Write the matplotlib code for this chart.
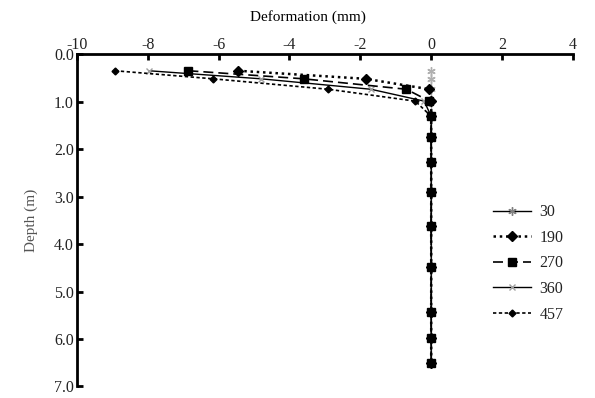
import matplotlib.pyplot as plt
from matplotlib.lines import Line2D

plt.rcParams['font.family'] = ['Liberation Serif', 'DejaVu Serif']
plt.rcParams['axes.unicode_minus'] = False

depth = [0.35, 0.52, 0.74, 0.99, 1.31, 1.75, 2.27, 2.91, 3.62, 4.49, 5.43, 5.97, 6.51]

d30 = [0.0, 0.0, 0.0, 0.0, 0.0, 0.0, 0.0, 0.0, 0.0, 0.0, 0.0, 0.0, 0.0]
d190 = [-5.45, -1.85, -0.05, 0.0, 0.0, 0.0, 0.0, 0.0, 0.0, 0.0, 0.0, 0.0, 0.0]
d270 = [-6.85, -3.6, -0.7, -0.05, 0.0, 0.0, 0.0, 0.0, 0.0, 0.0, 0.0, 0.0, 0.0]
d360 = [-7.97, -4.8, -1.7, -0.2, 0.0, 0.0, 0.0, 0.0, 0.0, 0.0, 0.0, 0.0, 0.0]
d457 = [-8.92, -6.15, -2.9, -0.45, 0.0, 0.0, 0.0, 0.0, 0.0, 0.0, 0.0, 0.0, 0.0]

labels = ["30", "190", "270", "360", "457"]

fig = plt.figure(figsize=(5.95, 3.98), dpi=100)
ax = fig.add_axes([0.129, 0.029, 0.834, 0.835])

# series styles follow the excel original
ax.plot(d30, depth, color="#a0a0a0", lw=1, marker=(6, 2, 0), ms=6, mec="#b0b0b0")
ax.plot(d360, depth, color="black", lw=1, marker="x", ms=5, mec="#a0a0a0")
ax.plot(d457, depth, color="black", lw=1.2, ls=(0, (2, 1.5)), marker="D", ms=3.5)
ax.plot(d270, depth, color="black", lw=1.2, ls=(0, (6, 3)), marker="s", ms=5.5)
ax.plot(d190, depth, color="black", lw=1.8, ls=(0, (1, 1.5)), marker="D", ms=5.5)

ax.set_xlim(-10, 4)
ax.set_ylim(7, 0)
ax.set_xticks(range(-10, 5, 2))
ax.set_yticks(range(0, 8))
ax.set_yticklabels([f"{v:.1f}" for v in range(0, 8)])
ax.xaxis.tick_top()
ax.xaxis.set_label_position("top")
ax.set_xlabel("Deformation (mm)", fontsize=11)
ax.xaxis.set_label_coords(0.465, 1.10)
ax.set_ylabel("Depth (m)", fontsize=11, color="#555555")
ax.yaxis.set_label_coords(-0.078, 0.5)

for s in ["right", "bottom"]:
    ax.spines[s].set_visible(False)
for s in ["left", "top"]:
    ax.spines[s].set_linewidth(2)
ax.tick_params(axis="both", direction="in", length=4, width=2, labelsize=11.5,
               labelcolor="#222222")
ax.tick_params(axis="x", pad=1)
ax.tick_params(axis="y", pad=2)

handles = [
    Line2D([], [], color="black", lw=1, marker=(6, 2, 0), ms=6, mec="#808080"),
    Line2D([], [], color="black", lw=1.8, ls=(0, (1, 1.5)), marker="D", ms=5.5),
    Line2D([], [], color="black", lw=1.2, ls=(0, (6, 3)), marker="s", ms=5.5),
    Line2D([], [], color="black", lw=1, marker="x", ms=5, mec="#a0a0a0"),
    Line2D([], [], color="black", lw=1.2, ls=(0, (2, 1.5)), marker="D", ms=3.5),
]
leg = ax.legend(handles, labels, loc="center left", bbox_to_anchor=(0.81, 0.37),
                frameon=False, fontsize=11.5, handlelength=2.4, handletextpad=0.5,
                labelspacing=0.6)
for t in leg.get_texts():
    t.set_color("#222222")

fig.savefig("out.png", dpi=100)
